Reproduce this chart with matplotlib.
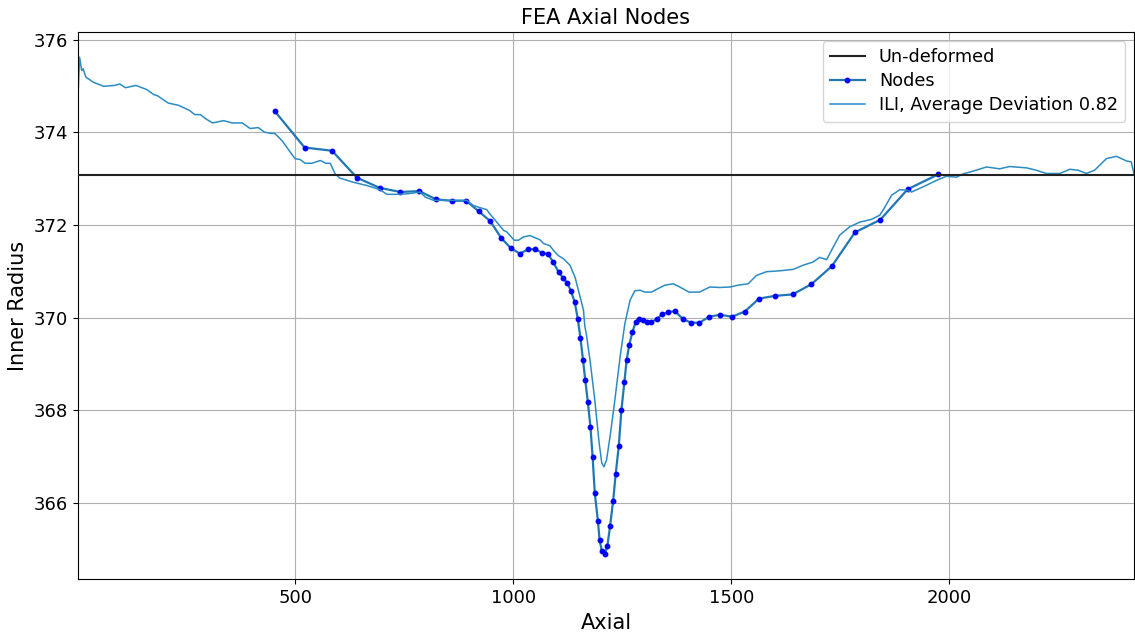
import matplotlib
matplotlib.use("Agg")
import matplotlib.pyplot as plt

# undeformed inner radius
undeformed_r = 373.07

# FEA axial nodes (axial position, inner radius)
nodes_x = [452, 521, 584, 641, 693, 741, 784, 823, 859, 892,
           921, 947, 972, 994, 1015, 1033, 1050, 1065, 1080, 1092,
           1104, 1114, 1124, 1132, 1141, 1148, 1154, 1160, 1165, 1171,
           1177, 1182, 1187, 1194, 1198, 1203, 1210, 1216, 1222, 1229,
           1235, 1242, 1248, 1255, 1260, 1266, 1273, 1281, 1288, 1297,
           1306, 1317, 1329, 1342, 1356, 1371, 1389, 1408, 1427, 1450,
           1474, 1502, 1531, 1564, 1601, 1641, 1684, 1731, 1784, 1842,
           1905, 1975]
nodes_y = [374.46, 373.67, 373.60, 373.02, 372.80, 372.71, 372.73, 372.55, 372.52, 372.52,
           372.29, 372.08, 371.72, 371.50, 371.38, 371.47, 371.48, 371.40, 371.37, 371.19,
           370.98, 370.86, 370.74, 370.58, 370.33, 369.97, 369.56, 369.08, 368.66, 368.18,
           367.64, 366.99, 366.21, 365.62, 365.20, 364.97, 364.89, 365.08, 365.50, 366.04,
           366.63, 367.23, 368.00, 368.62, 369.08, 369.41, 369.68, 369.91, 369.97, 369.94,
           369.90, 369.90, 369.97, 370.07, 370.12, 370.14, 369.97, 369.89, 369.89, 370.02,
           370.06, 370.02, 370.13, 370.41, 370.47, 370.50, 370.72, 371.11, 371.84, 372.11,
           372.77, 373.09]

# ILI profile
ili_x = [1, 4.7, 9.5, 12.8, 19, 36, 60, 85, 97, 110,
         134, 159, 175, 183, 208, 232, 257, 269, 282, 294,
         310, 335, 355, 378, 396, 415, 429, 442, 453, 469,
         499, 511, 522, 538, 557, 570, 580, 591, 602, 633,
         664, 694, 710, 733, 756, 786, 798, 817, 847, 893,
         908, 924, 939, 946, 962, 978, 985, 1002, 1012, 1023,
         1038, 1061, 1069, 1084, 1092, 1103, 1115, 1130, 1142, 1153,
         1161, 1164, 1168, 1176, 1187, 1197, 1203, 1208, 1214, 1223,
         1233, 1245, 1256, 1268, 1279, 1291, 1302, 1317, 1333, 1348,
         1367, 1382, 1403, 1427, 1451, 1474, 1497, 1516, 1539, 1558,
         1581, 1612, 1642, 1665, 1688, 1703, 1719, 1734, 1749, 1772,
         1795, 1822, 1841, 1853, 1868, 1887, 1902, 1914, 1940, 1971,
         1994, 2017, 2032, 2055, 2086, 2116, 2139, 2178, 2200, 2223,
         2254, 2277, 2296, 2315, 2334, 2361, 2384, 2407, 2418, 2424]
ili_y = [374.76, 375.62, 375.33, 375.37, 375.19, 375.08, 374.99, 375.01, 375.04, 374.96,
         375.01, 374.92, 374.81, 374.79, 374.63, 374.58, 374.47, 374.38, 374.38, 374.29,
         374.20, 374.25, 374.20, 374.20, 374.08, 374.10, 374.00, 373.98, 373.97, 373.82,
         373.43, 373.41, 373.33, 373.33, 373.39, 373.33, 373.33, 373.10, 373.01, 372.92,
         372.85, 372.76, 372.66, 372.66, 372.67, 372.71, 372.60, 372.53, 372.53, 372.53,
         372.42, 372.37, 372.33, 372.24, 372.06, 371.88, 371.85, 371.67, 371.67, 371.74,
         371.77, 371.68, 371.60, 371.55, 371.45, 371.34, 371.27, 371.13, 370.86, 370.45,
         370.16, 369.82, 369.62, 369.08, 368.22, 367.29, 366.86, 366.78, 366.93, 367.50,
         368.22, 369.15, 369.87, 370.38, 370.58, 370.59, 370.55, 370.55, 370.63, 370.70,
         370.73, 370.66, 370.55, 370.55, 370.66, 370.65, 370.66, 370.70, 370.73, 370.91,
         370.99, 371.01, 371.04, 371.13, 371.20, 371.30, 371.25, 371.52, 371.78, 371.96,
         372.06, 372.12, 372.21, 372.39, 372.64, 372.76, 372.75, 372.71, 372.82, 372.96,
         373.05, 373.03, 373.10, 373.16, 373.25, 373.21, 373.26, 373.23, 373.18, 373.11,
         373.11, 373.20, 373.18, 373.11, 373.18, 373.43, 373.48, 373.38, 373.36, 373.11]

avg_dev = 0.82

fig = plt.figure(figsize=(11.35, 6.34), dpi=100)
ax = fig.add_axes([0.0687, 0.0863, 0.9303, 0.8628])

ax.axhline(undeformed_r, color='#222222', lw=1.5, label='Un-deformed', zorder=3)
ax.plot(nodes_x, nodes_y, '-', color='#1f77b4', lw=1.6, marker='o', ms=3.2,
        mfc='blue', mec='blue', label='Nodes')
ax.plot(ili_x, ili_y, '-', color='#2b8cc4', lw=1.1,
        label='ILI, Average Deviation %.2f' % avg_dev)

ax.set_xlim(ili_x[0], ili_x[-1])
ax.set_title('FEA Axial Nodes', fontsize=15)
ax.set_xlabel('Axial', fontsize=15)
ax.set_ylabel('Inner Radius', fontsize=15)
ax.tick_params(labelsize=13)
ax.grid(True)
ax.legend(loc='upper right', fontsize=12.7, labelspacing=0.35)

fig.savefig('out.png', dpi=100)
